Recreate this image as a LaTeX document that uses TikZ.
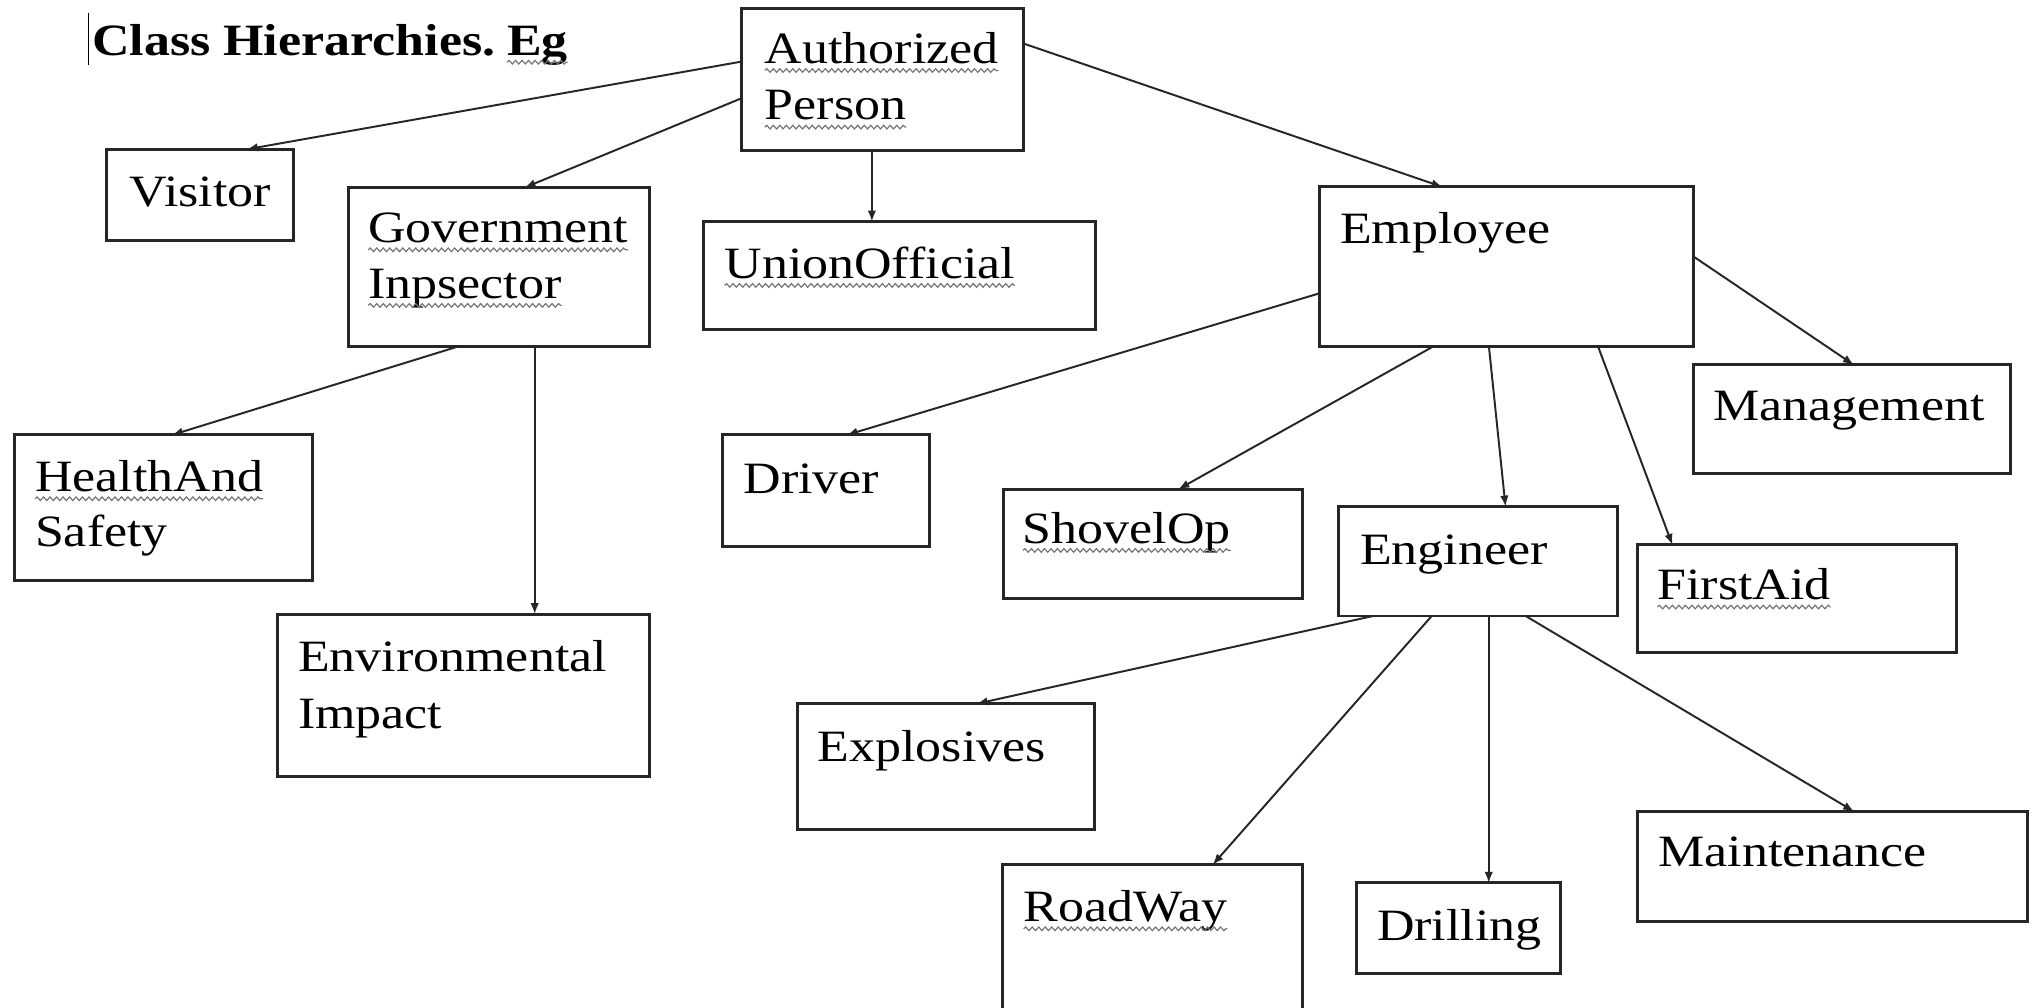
\documentclass[tikz,border=0pt]{standalone}
\usepackage{fontspec}
\setmainfont{Liberation Serif}[FakeStretch=1.16]
\usetikzlibrary{calc,arrows.meta,decorations.pathmorphing}
\tikzset{
  box/.style={draw=black!85, line width=2.3pt, inner sep=0pt, outer sep=0pt, anchor=north west},
  lbl/.style={inner sep=0pt, outer sep=0pt, anchor=base west, font=\fontsize{34.5}{40}\selectfont},
  ttl/.style={lbl, font=\fontsize{34.5}{40}\selectfont\bfseries},
  arr/.style={draw=black!85, line width=1.5pt, -{Latex[length=8.5pt,width=6.5pt]}},
  squig/.style={draw=black!55, line width=0.9pt, decorate, decoration={snake, segment length=5pt, amplitude=1.4pt}}
}
\newcommand\squigunder[1]{\draw[squig] ([yshift=-5.5pt]#1.base west) -- ([yshift=-5.5pt]#1.base east);}
\begin{document}
\begin{tikzpicture}[x=1pt,y=-1pt]
\fill[white] (0,0) rectangle (1568,776);
\useasboundingbox (0,0) rectangle (1568,776);

% title
\coordinate (cur1) at (68,10);
\coordinate (cur2) at (68,50);
\draw[line width=1pt] (cur1) -- (cur2);
\node[ttl] (t1) at (71,42.4) {Class Hierarchies.};
\node[ttl, anchor=base west] (t2) at ([xshift=9pt]t1.base east) {Eg};
\squigunder{t2}

% boxes
\node[box, minimum width=217pt,   minimum height=109.5pt] (ap)  at (571,6.5) {};
\node[box, minimum width=144pt,   minimum height=70pt]    (vis) at (82,115) {};
\node[box, minimum width=231.5pt, minimum height=122pt]   (gov) at (268.5,144.5) {};
\node[box, minimum width=302pt,   minimum height=82.7pt]  (uni) at (542,170.7) {};
\node[box, minimum width=288pt,   minimum height=123pt]   (emp) at (1016.5,144) {};
\node[box, minimum width=244pt,   minimum height=84pt]    (man) at (1304.5,281) {};
\node[box, minimum width=229.5pt, minimum height=111.7pt] (hs)  at (11,335) {};
\node[box, minimum width=286.5pt, minimum height=125pt]   (env) at (213.5,473) {};
\node[box, minimum width=159.5pt, minimum height=85.5pt]  (drv) at (556.5,335) {};
\node[box, minimum width=230.3pt, minimum height=84pt]    (sho) at (772.7,376.8) {};
\node[box, minimum width=215.3pt, minimum height=84.2pt]  (eng) at (1030.7,390.2) {};
\node[box, minimum width=245.4pt, minimum height=82.9pt]  (fa)  at (1261,419.7) {};
\node[box, minimum width=229pt,   minimum height=97pt]    (exp) at (614,542) {};
\node[box, minimum width=300.3pt, minimum height=84.8pt]  (mnt) at (1261,625) {};
\node[box, minimum width=231pt,   minimum height=116pt]   (rw)  at (772,666) {};
\node[box, minimum width=157.5pt, minimum height=70pt]    (drl) at (1044.3,680) {};

% labels
\node[lbl] (ap1) at (589,48.8) {Authorized}; \squigunder{ap1}
\node[lbl] (ap2) at (589,92.4) {Person}; \squigunder{ap2}
\node[lbl] (vist) at (100,159.2) {Visitor};
\node[lbl] (gov1) at (283.6,186.9) {Government}; \squigunder{gov1}
\node[lbl] (gov2) at (283.6,229.7) {Inpsector}; \squigunder{gov2}
\node[lbl] (unit) at (558,214.3) {UnionOfficial}; \squigunder{unit}
\node[lbl] (empt) at (1032,187.4) {Employee};
\node[lbl] (mant) at (1319.7,324) {Management};
\node[lbl] (hs1) at (27,378.6) {HealthAnd}; \squigunder{hs1}
\node[lbl] (hs2) at (27,421) {Safety};
\node[lbl] (env1) at (229.6,517) {Environmental};
\node[lbl] (env2) at (229.6,561) {Impact};
\node[lbl] (drvt) at (572.7,380) {Driver};
\node[lbl] (shot) at (787.8,418.4) {ShovelOp}; \squigunder{shot}
\node[lbl] (engt) at (1047.4,435) {Engineer};
\node[lbl] (fat) at (1276.4,462) {FirstAid}; \squigunder{fat}
\node[lbl] (expt) at (629.7,586.6) {Explosives};
\node[lbl] (rwt) at (788.4,709.8) {RoadWay}; \squigunder{rwt}
\node[lbl] (drlt) at (1060.5,724) {Drilling};
\node[lbl] (mntt) at (1277.3,667.5) {Maintenance};

% connectors
\draw[arr] ($(ap.north west)!0.374!(ap.south west)$) -- ($(vis.north west)!0.75!(vis.north east)$);
\draw[arr] ($(ap.north west)!0.632!(ap.south west)$) -- ($(gov.north west)!0.585!(gov.north east)$);
\coordinate (a3) at ($(ap.south west)!0.463!(ap.south east)$);
\draw[arr] (a3) -- (a3 |- uni.north);
\draw[arr] ($(ap.north east)!0.246!(ap.south east)$) -- ($(emp.north west)!0.328!(emp.north east)$);

\draw[arr] ($(gov.south west)!0.369!(gov.south east)$) -- ($(hs.north west)!0.529!(hs.north east)$);
\coordinate (g2) at ($(gov.south west)!0.619!(gov.south east)$);
\draw[arr] (g2) -- (g2 |- env.north);

\draw[arr] ($(emp.north west)!0.665!(emp.south west)$) -- ($(drv.north west)!0.599!(drv.north east)$);
\draw[arr] ($(emp.south west)!0.302!(emp.south east)$) -- ($(sho.north west)!0.585!(sho.north east)$);
\draw[arr] ($(emp.south west)!0.452!(emp.south east)$) -- ($(eng.north west)!0.598!(eng.north east)$);
\draw[arr] ($(emp.south west)!0.744!(emp.south east)$) -- ($(fa.north west)!0.110!(fa.north east)$);
\draw[arr] ($(emp.north east)!0.437!(emp.south east)$) -- ($(man.north west)!0.505!(man.north east)$);

\draw[arr] ($(eng.south west)!0.124!(eng.south east)$) -- ($(exp.north west)!0.603!(exp.north east)$);
\draw[arr] ($(eng.south west)!0.334!(eng.south east)$) -- ($(rw.north west)!0.701!(rw.north east)$);
\coordinate (e3) at ($(eng.south west)!0.538!(eng.south east)$);
\draw[arr] (e3) -- (e3 |- drl.north);
\draw[arr] ($(eng.south west)!0.670!(eng.south east)$) -- ($(mnt.north west)!0.556!(mnt.north east)$);
\end{tikzpicture}
\end{document}
